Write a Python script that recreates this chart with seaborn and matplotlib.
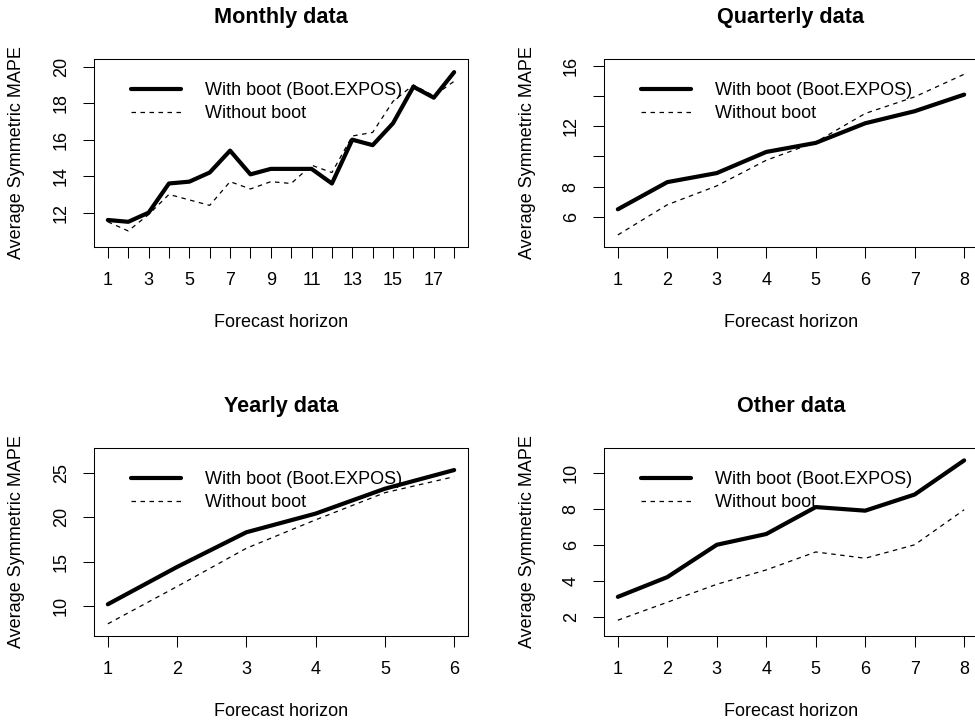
#importing libraries
import seaborn as sns
import matplotlib.pyplot as plt
import pandas as pd
import numpy as np

##data
monthly_h = list(range(1, 19))
monthly_boot = [11.6, 11.5, 12.0, 13.6, 13.7, 14.2, 15.4, 14.1, 14.4, 14.4, 14.4, 13.6, 16.0, 15.7, 16.9, 18.9, 18.3, 19.7]
monthly_noboot = [11.5, 11.0, 11.9, 13.0, 12.7, 12.4, 13.7, 13.3, 13.7, 13.6, 14.6, 14.2, 16.2, 16.4, 18.1, 19.0, 18.4, 19.2]

quarterly_h = list(range(1, 9))
quarterly_boot = [6.5, 8.3, 8.9, 10.3, 10.9, 12.2, 13.0, 14.1]
quarterly_noboot = [4.8, 6.8, 8.05, 9.75, 10.95, 12.85, 13.95, 15.45]

yearly_h = list(range(1, 7))
yearly_boot = [10.2, 14.4, 18.3, 20.4, 23.2, 25.3]
yearly_noboot = [8.0, 12.2, 16.5, 19.7, 22.75, 24.55]

other_h = list(range(1, 9))
other_boot = [3.1, 4.2, 6.0, 6.6, 8.1, 7.9, 8.8, 10.7]
other_noboot = [1.8, 2.8, 3.8, 4.6, 5.6, 5.25, 6.0, 7.95]

##style
sns.set_style("ticks")
plt.rcParams['font.family'] = ['Liberation Sans', 'DejaVu Sans']
plt.rcParams['axes.linewidth'] = 0.75
plt.rcParams['xtick.major.width'] = 0.75
plt.rcParams['ytick.major.width'] = 0.75
plt.rcParams['xtick.major.size'] = 8
plt.rcParams['ytick.major.size'] = 8
plt.rcParams['xtick.color'] = 'black'
plt.rcParams['ytick.color'] = 'black'
plt.rcParams['axes.edgecolor'] = 'black'
plt.rcParams['text.color'] = 'black'
plt.rcParams['axes.labelcolor'] = 'black'
plt.rcParams['axes.titlecolor'] = 'black'

fig = plt.figure(figsize=(9.75, 7.26), dpi=100)

W = 374 / 975
H = 188 / 726
positions = [
    [94 / 975, 1 - 247 / 726, W, H],
    [604 / 975, 1 - 247 / 726, W, H],
    [94 / 975, 1 - 636 / 726, W, H],
    [604 / 975, 1 - 636 / 726, W, H],
]


def panel(pos, title, h, boot, noboot, ylim, yticks, ylabels, xlabels):
    ax = fig.add_axes(pos)
    df = pd.DataFrame({'h': h, 'boot': boot, 'noboot': noboot})
    sns.lineplot(ax=ax, data=df, x='h', y='boot', color='black', lw=3,
                 solid_capstyle='round', solid_joinstyle='round',
                 label='With boot (Boot.EXPOS)')
    sns.lineplot(ax=ax, data=df, x='h', y='noboot', color='black', lw=0.9,
                 linestyle=(0, (3.6, 3.6)), label='Without boot')
    n = len(h)
    pad = (n - 1) * 0.04
    ax.set_xlim(1 - pad, n + pad)
    ax.set_ylim(*ylim)
    ax.set_xticks(h)
    ax.set_xticklabels(xlabels, fontsize=13)
    ax.set_yticks(yticks)
    ax.set_yticklabels(ylabels, fontsize=13, rotation=90, va='center')
    ax.tick_params(axis='x', pad=10)
    ax.tick_params(axis='y', pad=9.5)
    ax.set_title(title, fontsize=15.6, fontweight='bold', pad=26)
    ax.set_xlabel('Forecast horizon', fontsize=13, va='center')
    ax.xaxis.set_label_coords(0.5, -(323 - 247) / 188)
    ax.set_ylabel('Average Symmetric MAPE', fontsize=13, va='center')
    ax.yaxis.set_label_coords(-77 / 374, 0.5)
    ax.legend(loc='upper left', bbox_to_anchor=(36.7 / 374, 1 - 23 / 188),
              frameon=False, fontsize=13, handlelength=2.77,
              handletextpad=1.35, labelspacing=0.33, borderpad=0,
              borderaxespad=0)
    return ax


##Monthly
panel(positions[0], 'Monthly data', monthly_h, monthly_boot, monthly_noboot,
      (10.12, 20.42), [12, 14, 16, 18, 20], ['12', '14', '16', '18', '20'],
      [str(i) if i % 2 == 1 else '' for i in monthly_h])

##Quarterly
panel(positions[1], 'Quarterly data', quarterly_h, quarterly_boot, quarterly_noboot,
      (4.0, 16.46), [6, 8, 10, 12, 14, 16], ['6', '8', '', '12', '', '16'],
      [str(i) for i in quarterly_h])

##Yearly
panel(positions[2], 'Yearly data', yearly_h, yearly_boot, yearly_noboot,
      (6.63, 27.78), [10, 15, 20, 25], ['10', '15', '20', '25'],
      [str(i) for i in yearly_h])

##Other
panel(positions[3], 'Other data', other_h, other_boot, other_noboot,
      (0.92, 11.39), [2, 4, 6, 8, 10], ['2', '4', '6', '8', '10'],
      [str(i) for i in other_h])

fig.savefig('out.png', dpi=100)
